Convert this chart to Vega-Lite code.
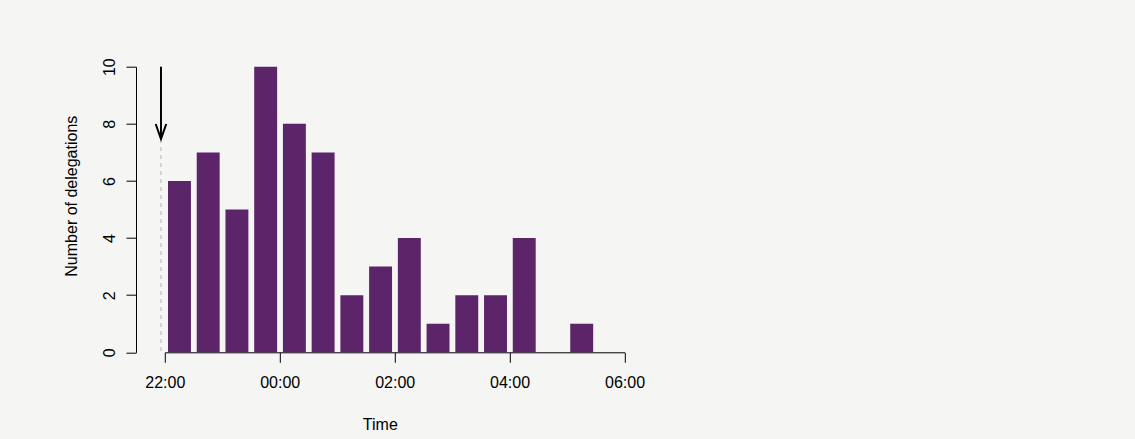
{
  "$schema": "https://vega.github.io/schema/vega-lite/v6.json",
  "width": 459.7,
  "height": 285.6,
  "autosize": {"type": "none"},
  "padding": {"left": 164.8, "top": 66.7, "right": 510.5, "bottom": 86.7},
  "background": "#f5f5f3",
  "config": {
    "view": {"stroke": null},
    "font": "Liberation Sans",
    "axis": {
      "domainColor": "#000000",
      "tickColor": "#000000",
      "labelColor": "#000000",
      "titleColor": "#000000",
      "labelFont": "Liberation Sans",
      "titleFont": "Liberation Sans",
      "labelFontSize": 16,
      "titleFontSize": 16,
      "titleFontWeight": "normal",
      "grid": false,
      "tickSize": 10,
      "domainWidth": 1,
      "tickWidth": 1
    }
  },
  "datasets": {
    "bins": [
      {"start": "2024-01-01T22:00", "end": "2024-01-01T22:30", "count": 6},
      {"start": "2024-01-01T22:30", "end": "2024-01-01T23:00", "count": 7},
      {"start": "2024-01-01T23:00", "end": "2024-01-01T23:30", "count": 5},
      {"start": "2024-01-01T23:30", "end": "2024-01-02T00:00", "count": 10},
      {"start": "2024-01-02T00:00", "end": "2024-01-02T00:30", "count": 8},
      {"start": "2024-01-02T00:30", "end": "2024-01-02T01:00", "count": 7},
      {"start": "2024-01-02T01:00", "end": "2024-01-02T01:30", "count": 2},
      {"start": "2024-01-02T01:30", "end": "2024-01-02T02:00", "count": 3},
      {"start": "2024-01-02T02:00", "end": "2024-01-02T02:30", "count": 4},
      {"start": "2024-01-02T02:30", "end": "2024-01-02T03:00", "count": 1},
      {"start": "2024-01-02T03:00", "end": "2024-01-02T03:30", "count": 2},
      {"start": "2024-01-02T03:30", "end": "2024-01-02T04:00", "count": 2},
      {"start": "2024-01-02T04:00", "end": "2024-01-02T04:30", "count": 4},
      {"start": "2024-01-02T04:30", "end": "2024-01-02T05:00", "count": 0},
      {"start": "2024-01-02T05:00", "end": "2024-01-02T05:30", "count": 1}
    ],
    "arrow": [{"start": "2024-01-01T21:56", "top": 10, "count": 7.47, "base": 0}]
  },
  "encoding": {
    "x": {
      "field": "start",
      "type": "temporal",
      "scale": {
        "domain": [
          {"year": 2024, "month": 1, "date": 1, "hours": 22},
          {"year": 2024, "month": 1, "date": 2, "hours": 6}
        ],
        "nice": false
      },
      "axis": {
        "title": "Time",
        "format": "%H:%M",
        "values": [
          {"year": 2024, "month": 1, "date": 1, "hours": 22},
          {"year": 2024, "month": 1, "date": 2, "hours": 0},
          {"year": 2024, "month": 1, "date": 2, "hours": 2},
          {"year": 2024, "month": 1, "date": 2, "hours": 4},
          {"year": 2024, "month": 1, "date": 2, "hours": 6}
        ],
        "labelPadding": 12,
        "titlePadding": 26,
        "titleX": 215,
        "labelFlush": false
      }
    },
    "y": {
      "field": "count",
      "type": "quantitative",
      "scale": {"domain": [0, 10], "nice": false},
      "axis": {
        "title": "Number of delegations",
        "values": [0, 2, 4, 6, 8, 10],
        "offset": 28.8,
        "labelAngle": 270,
        "labelAlign": "center",
        "labelBaseline": "bottom",
        "labelPadding": 9,
        "titlePadding": 22,
        "titleY": 129,
        "labelFlush": false
      }
    }
  },
  "layer": [
    {
      "data": {"name": "bins"},
      "mark": {"type": "bar", "color": "#5c2569", "xOffset": 3.2, "x2Offset": -2.6},
      "encoding": {
        "x2": {"field": "end"},
        "y2": {"datum": 0}
      }
    },
    {
      "data": {"name": "arrow"},
      "mark": {"type": "rule", "color": "#cccccc", "strokeWidth": 1.5, "strokeDash": [4, 4]},
      "encoding": {
        "y2": {"field": "base"}
      }
    },
    {
      "data": {"name": "arrow"},
      "mark": {"type": "rule", "color": "#000000", "strokeWidth": 2},
      "encoding": {
        "y2": {"field": "top"}
      }
    },
    {
      "data": {"name": "arrow"},
      "mark": {
        "type": "point",
        "shape": "M-1,-2.83L0,0L1,-2.83",
        "filled": false,
        "stroke": "#000000",
        "strokeWidth": 2,
        "size": 112,
        "opacity": 1
      }
    }
  ]
}
